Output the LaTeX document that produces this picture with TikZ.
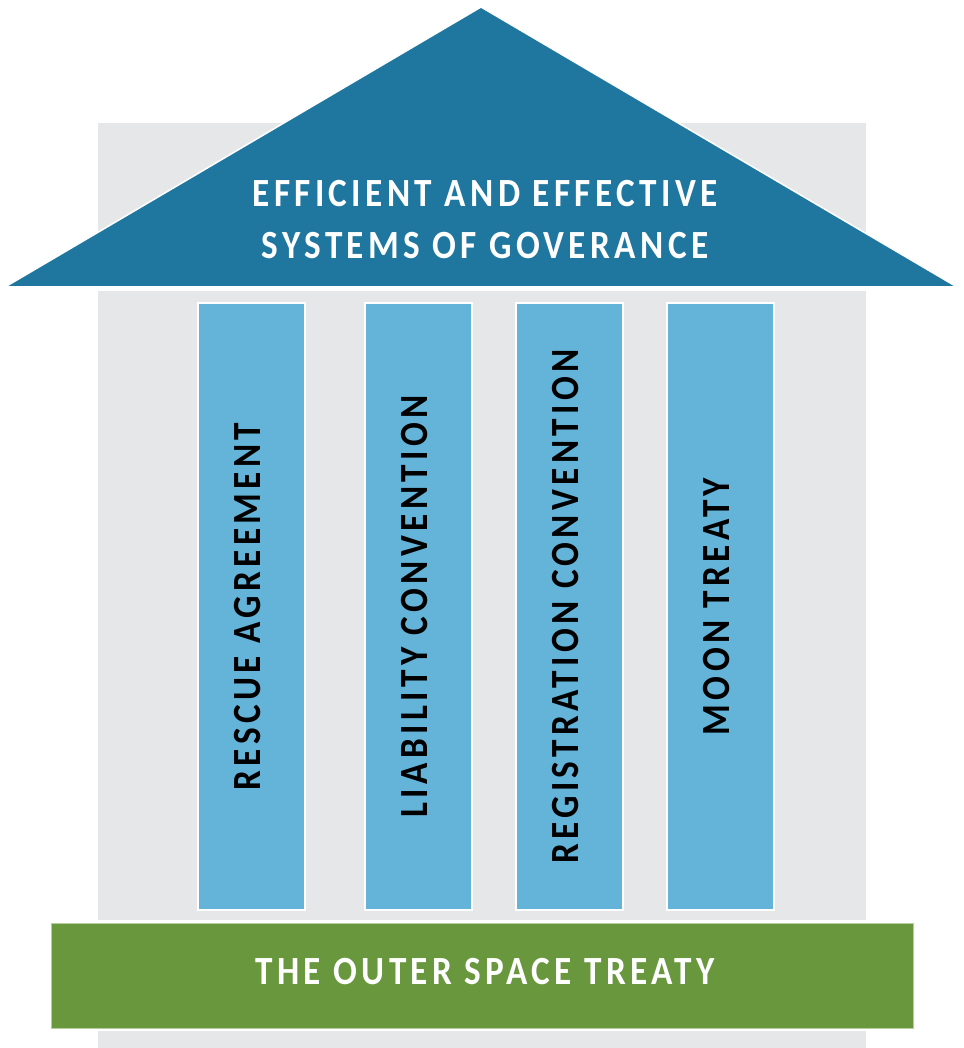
\documentclass[tikz,border=0pt]{standalone}
\usepackage{fontspec}
\setmainfont{Carlito}
\usepackage{tikz}
\usetikzlibrary{positioning,calc}

\definecolor{wallgray}{HTML}{E6E7E9}
\definecolor{roofblue}{HTML}{1F77A0}
\definecolor{pillarblue}{HTML}{64B4D9}
\definecolor{basegreen}{HTML}{69973E}
\definecolor{baseedge}{HTML}{B5CDA0}

\newcommand{\spaced}[1]{{\addfontfeatures{FakeStretch=0.88,LetterSpace=11}\bfseries #1}}

\tikzset{
    pillar/.style={fill=pillarblue, draw=white, line width=2pt, inner sep=0pt,
        minimum width=107, minimum height=607},
    pillartext/.style={rotate=90, text=black, inner sep=0pt,
        font=\fontsize{40}{48}\selectfont},
    bigtext/.style={text=white, align=center, inner sep=0pt,
        font=\fontsize{40}{52}\selectfont}
}

\begin{document}
\begin{tikzpicture}[x=1pt,y=-1pt]
    \useasboundingbox (0,0) rectangle (963,1048);

    % Wall
    \fill[wallgray] (98,123) rectangle (866,1048);

    % Roof
    \coordinate (apex) at (481,7);
    \coordinate (eaveL) at (5,287);
    \coordinate (eaveR) at (957,287);
    \fill[white] (98,287) rectangle (866,291);
    \filldraw[fill=roofblue, draw=white, line width=1.5pt, line join=miter] (apex) -- (eaveR) -- (eaveL) -- cycle;
    \node[bigtext] (roof) at (485,220) {\spaced{EFFICIENT AND EFFECTIVE}\\\spaced{SYSTEMS OF GOVERANCE}};

    % Pillars
    \foreach \x/\txt [count=\i] in {197/RESCUE AGREEMENT, 364/LIABILITY CONVENTION, 515/REGISTRATION CONVENTION, 666/MOON TREATY} {
        \node[pillar, anchor=north west] (p\i) at (\x,302) {};
        \node[pillartext] (t\i) at ($(p\i.center)+(-4,0)$) {\spaced{\txt}};
    }

    % Base
    \fill[white] (98,920) rectangle (866,1031);
    \node[fill=basegreen, draw=baseedge, line width=1pt, inner sep=0pt,
        minimum width=862, minimum height=105, anchor=north west] (base) at (51,923) {};
    \node[bigtext] (basetext) at (485,972) {\spaced{THE OUTER SPACE TREATY}};
\end{tikzpicture}
\end{document}
